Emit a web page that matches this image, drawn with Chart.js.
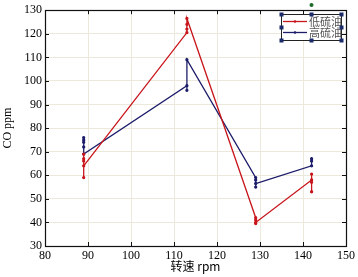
<!DOCTYPE html>
<html>
<head>
<meta charset="utf-8">
<script src="https://cdn.jsdelivr.net/npm/chart.js@4.4.0/dist/chart.umd.min.js"></script>
<style>
  html, body { margin: 0; padding: 0; background: #fff; }
</style>
</head>
<body>
<canvas id="chart" width="358" height="277"></canvas>
<script>
// speeds (rpm) and repeated CO readings, in the order they were plotted
const lowX  = [89, 89, 89, 89, 89, 113, 113, 113, 113, 129, 129, 129, 129, 142, 142, 142, 142];
const lowY  = [59, 69, 67, 66, 64, 120.5, 122, 124, 126.5, 42, 41, 39.5, 40, 58, 60.5, 53, 57];
const highX = [89, 89, 89, 89, 89, 113, 113, 113, 129, 129, 129, 129, 142, 142, 142];
const highY = [76, 75, 74, 72, 69, 98, 96, 109, 59, 58, 55, 56.5, 64, 67, 66];
const seriesNames = ['低硫油', '高硫油'];
const xTickValues = [80, 90, 100, 110, 120, 130, 140, 150];
const yTickValues = [30, 40, 50, 60, 70, 80, 90, 100, 110, 120, 130];

const RED = '#c8161d';
const BLUE = '#1d1d6b';
const serif = '"Liberation Serif", "DejaVu Serif", serif';

function toPoints(xs, ys) {
  return xs.map((x, i) => ({ x, y: ys[i] }));
}

// frame + inward ticks on all four sides, like the original figure
const frame = {
  id: 'frame',
  afterDatasetsDraw(chart) {
    let ctx = chart.ctx;
    let a = chart.chartArea;
    let xs = chart.scales.x, ys = chart.scales.y;
    ctx.save();
    ctx.strokeStyle = '#111';
    ctx.lineWidth = 1;
    ctx.beginPath();
    xTickValues.forEach(v => {
      let px = Math.round(xs.getPixelForValue(v)) + 0.5;
      ctx.moveTo(px, a.bottom); ctx.lineTo(px, a.bottom - 4);
      ctx.moveTo(px, a.top); ctx.lineTo(px, a.top + 4);
    });
    yTickValues.forEach(v => {
      let py = Math.round(ys.getPixelForValue(v)) + 0.5;
      ctx.moveTo(a.left, py); ctx.lineTo(a.left + 4, py);
      ctx.moveTo(a.right, py); ctx.lineTo(a.right - 4, py);
    });
    ctx.stroke();
    ctx.lineWidth = 1.2;
    ctx.strokeRect(Math.round(a.left) + 0.5, Math.round(a.top) + 0.5,
      Math.round(a.right - a.left), Math.round(a.bottom - a.top));
    ctx.restore();
  }
};

// legend box in "selected" state with its handles
const legendBox = {
  id: 'legendBox',
  afterDraw(chart) {
    let ctx = chart.ctx;
    let L = 281, T = 14, R = 341, B = 40;
    ctx.save();
    ctx.fillStyle = '#fff';
    ctx.fillRect(L, T, R - L, B - T);
    ctx.strokeStyle = '#222';
    ctx.lineWidth = 1;
    ctx.strokeRect(L + 0.5, T + 0.5, R - L, B - T);

    [[RED, 21], [BLUE, 32]].forEach(([c, y], i) => {
      ctx.strokeStyle = c;
      ctx.lineWidth = 1.3;
      ctx.beginPath();
      ctx.moveTo(283, y + 0.5);
      ctx.lineTo(307, y + 0.5);
      ctx.stroke();
      ctx.fillStyle = c;
      ctx.beginPath();
      ctx.arc(295, y + 0.5, 1.3, 0, Math.PI * 2);
      ctx.fill();
      ctx.fillStyle = '#555';
      ctx.font = '11px "Noto Sans CJK SC"';
      ctx.textBaseline = 'middle';
      ctx.fillText(seriesNames[i], 309, y + 1);
    });

    ctx.fillStyle = '#1b2a6b';
    let mx = (L + R) / 2, my = (T + B) / 2;
    [[L, T], [mx, T], [R, T], [L, my], [R, my], [L, B], [mx, B], [R, B]].forEach(([x, y]) => {
      ctx.fillRect(x - 1.5, y - 1.5, 4, 4);
    });
    ctx.fillStyle = '#1d6b2a';
    ctx.beginPath();
    ctx.arc(mx + 0.5, 5, 2, 0, Math.PI * 2);
    ctx.fill();
    ctx.restore();
  }
};

new Chart(document.getElementById('chart'), {
  type: 'scatter',
  data: {
    datasets: [
      {
        label: seriesNames[0],
        data: toPoints(lowX, lowY),
        showLine: true,
        borderColor: RED,
        backgroundColor: RED,
        borderWidth: 1.3,
        pointRadius: 1,
        tension: 0,
      },
      {
        label: seriesNames[1],
        data: toPoints(highX, highY),
        showLine: true,
        borderColor: BLUE,
        backgroundColor: BLUE,
        borderWidth: 1.3,
        pointRadius: 1,
        tension: 0,
      },
    ],
  },
  options: {
    responsive: false,
    animation: false,
    layout: { padding: { top: 7, right: 11, left: 0, bottom: 0 } },
    plugins: {
      legend: { display: false },
      tooltip: { enabled: false },
    },
    scales: {
      x: {
        type: 'linear',
        min: 80,
        max: 150,
        afterBuildTicks: s => { s.ticks = xTickValues.map(v => ({ value: v })); },
        afterFit: s => { s.height = 31; },
        grid: { color: '#ece8dc', borderDash: [1, 1], drawTicks: false },
        border: { display: false },
        ticks: { color: '#000', padding: 3, font: { family: serif, size: 12 } },
        title: {
          display: true,
          text: '转速 rpm',
          color: '#000',
          padding: { top: 0, bottom: 3 },
          font: { family: '"Noto Sans CJK SC", ' + serif, size: 12 },
        },
      },
      y: {
        type: 'linear',
        min: 30,
        max: 130,
        afterBuildTicks: s => { s.ticks = yTickValues.map(v => ({ value: v })); },
        afterFit: s => { s.width = 45; },
        grid: { color: '#ece8dc', borderDash: [1, 1], drawTicks: false },
        border: { display: false },
        ticks: { color: '#000', padding: 3, font: { family: serif, size: 12 } },
        title: {
          display: true,
          text: 'CO ppm',
          color: '#000',
          padding: { top: 1, bottom: 0 },
          font: { family: serif, size: 12 },
        },
      },
    },
  },
  plugins: [frame, legendBox],
});
</script>
</body>
</html>
